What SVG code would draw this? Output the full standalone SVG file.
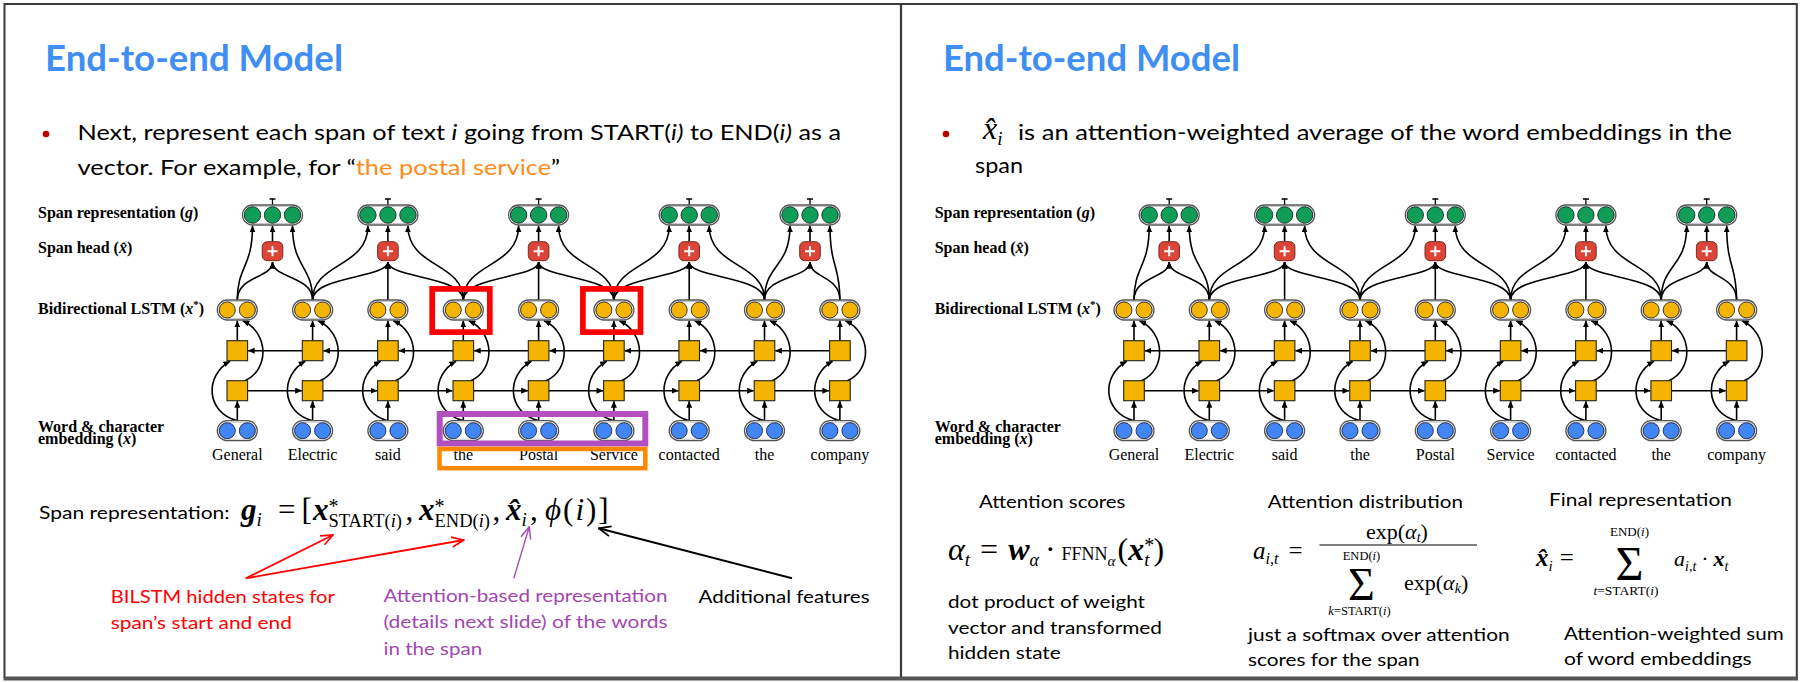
<svg xmlns="http://www.w3.org/2000/svg" width="1800" height="682" viewBox="0 0 1800 682">
<style>
  .s{font-family:Lato,"Open Sans","Liberation Sans",sans-serif;fill:#000}
  .title{font-size:36px;font-weight:bold;fill:#3F8EF4}
  .body{font-size:20.5px}
  .sm{font-size:18px}
  .serif{font-family:"Liberation Serif","Times New Roman","DejaVu Serif",serif}
  .lbl{font-size:16px;font-weight:bold}
  .word{font-size:16px;text-anchor:middle}
  .it{font-style:italic}
  .bi{font-style:italic;font-weight:bold}
  .ln{fill:none;stroke:#000;stroke-width:1.6;marker-end:url(#ah)}
  .pill{fill:#fff;stroke:#555;stroke-width:1.3}
  .pin{fill:none;stroke:#c8c8c8;stroke-width:1}
  .cg{fill:#0F9D58;stroke:#1d2f25;stroke-width:0.9}
  .cy{fill:#F4B400;stroke:#2a2a2a;stroke-width:0.9}
  .cb{fill:#4285F4;stroke:#1d2a44;stroke-width:0.9}
  .sq{fill:#F4B400;stroke:#222;stroke-width:1.1}
  .red{fill:#FF0000}
  .pur{fill:#A346B0}
</style>
<defs>
  <marker id="ah" viewBox="0 0 7 6" refX="6.6" refY="3" markerWidth="7" markerHeight="6" markerUnits="userSpaceOnUse" orient="auto"><path d="M0,0L7,3L0,6z" fill="#000"/></marker>
  <marker id="vR" viewBox="0 0 14 12" refX="13" refY="6" markerWidth="14" markerHeight="12" markerUnits="userSpaceOnUse" orient="auto"><path d="M1,1L13,6L1,11" fill="none" stroke="#FF0000" stroke-width="1.6"/></marker>
  <marker id="vP" viewBox="0 0 14 12" refX="13" refY="6" markerWidth="14" markerHeight="12" markerUnits="userSpaceOnUse" orient="auto"><path d="M1,1L13,6L1,11" fill="none" stroke="#A346B0" stroke-width="1.4"/></marker>
  <marker id="vK" viewBox="0 0 14 12" refX="13" refY="6" markerWidth="14" markerHeight="12" markerUnits="userSpaceOnUse" orient="auto"><path d="M1,1L13,6L1,11" fill="none" stroke="#000" stroke-width="1.8"/></marker>

  <!-- node shapes, centred on the origin -->
  <g id="gP">
    <path d="M0,-10V-16M-3,-16H3" stroke="#000" stroke-width="1.3"/>
    <rect class="pill" x="-30" y="-10" width="60" height="20" rx="10"/>
    <rect class="pin" x="-28.5" y="-8.5" width="57" height="17" rx="8.5"/>
    <circle class="cg" cx="-20" cy="0" r="8.2"/>
    <circle class="cg" cx="0" cy="0" r="8.2"/>
    <circle class="cg" cx="20" cy="0" r="8.2"/>
  </g>
  <g id="yP">
    <rect class="pill" x="-20" y="-10" width="40" height="20" rx="10"/>
    <rect class="pin" x="-18.5" y="-8.5" width="37" height="17" rx="8.5"/>
    <circle class="cy" cx="-10" cy="0" r="8"/>
    <circle class="cy" cx="10" cy="0" r="8"/>
  </g>
  <g id="bP">
    <rect class="pill" x="-20" y="-10" width="40" height="20" rx="10"/>
    <rect class="pin" x="-18.5" y="-8.5" width="37" height="17" rx="8.5"/>
    <circle class="cb" cx="-10" cy="0" r="8"/>
    <circle class="cb" cx="10" cy="0" r="8"/>
  </g>
  <rect id="sQ" class="sq" x="-10.3" y="-10" width="20.6" height="20"/>
  <g id="rB">
    <rect x="-10.3" y="-9.5" width="20.6" height="19" rx="5" fill="#DB4437" stroke="#7a2a22" stroke-width="1"/>
    <path d="M-5,0H5M0,-5V5" stroke="#fff" stroke-width="2"/>
  </g>

  <!-- per-column LSTM wiring (column at x=0) -->
  <g id="colL" class="ln">
    <path d="M0,420.7V401.2"/>
    <path d="M0,340.7V320.8"/>
    <path d="M0,420.7C-32.3,412 -32.3,375 -7.3,361.2"/>
    <path d="M7.5,380.7C32,370 32,333 5.5,320.8"/>
  </g>
  <!-- recurrent links to the next column -->
  <g id="hL" class="ln">
    <path d="M65,350.7H10.8"/>
    <path d="M10.3,390.7H64.5"/>
  </g>

  <!-- span-ranking network -->
  <g id="net">
    <g id="layerLabels" class="serif lbl">
      <text x="38" y="218.3">Span representation (<tspan class="it">g</tspan>)</text>
      <text x="38" y="253">Span head (<tspan class="it">x̂</tspan>)</text>
      <text x="38" y="314.3">Bidirectional LSTM (<tspan class="it">x</tspan><tspan font-size="11" dy="-6">*</tspan><tspan dy="6">)</tspan></text>
      <text x="38" y="432">Word &amp; character</text>
      <text x="38" y="444">embedding (<tspan class="it">x</tspan>)</text>
    </g>
    <g id="connectors">
      <use href="#colL" x="237.3"/>
      <use href="#colL" x="312.6"/>
      <use href="#colL" x="387.9"/>
      <use href="#colL" x="463.3"/>
      <use href="#colL" x="538.6"/>
      <use href="#colL" x="613.9"/>
      <use href="#colL" x="689.2"/>
      <use href="#colL" x="764.5"/>
      <use href="#colL" x="839.9"/>
      <use href="#hL" x="237.3"/>
      <use href="#hL" x="312.6"/>
      <use href="#hL" x="387.9"/>
      <use href="#hL" x="463.3"/>
      <use href="#hL" x="538.6"/>
      <use href="#hL" x="613.9"/>
      <use href="#hL" x="689.2"/>
      <use href="#hL" x="764.5"/>
      <g class="ln">
        <path d="M237.3,300C237.3,266 252.5,268 252.5,225.8"/>
        <path d="M312.6,300C312.6,266 292.5,268 292.5,225.8"/>
        <path d="M237.3,300C237.3,276 272.5,278 272.5,262"/>
        <path d="M312.6,300C312.6,276 272.5,278 272.5,262"/>
        <path d="M272.5,241.7V225.8"/>

        <path d="M312.6,300C312.6,262 367.9,268 367.9,225.8"/>
        <path d="M463.3,300C463.3,262 407.9,268 407.9,225.8"/>
        <path d="M312.6,300C312.6,276 387.9,278 387.9,262"/>
        <path d="M463.3,300C463.3,276 387.9,278 387.9,262"/>
        <path d="M387.9,300V262"/>
        <path d="M387.9,241.7V225.8"/>

        <path d="M463.3,300C463.3,262 518.6,268 518.6,225.8"/>
        <path d="M613.9,300C613.9,262 558.6,268 558.6,225.8"/>
        <path d="M463.3,300C463.3,276 538.6,278 538.6,262"/>
        <path d="M613.9,300C613.9,276 538.6,278 538.6,262"/>
        <path d="M538.6,300V262"/>
        <path d="M538.6,241.7V225.8"/>

        <path d="M613.9,300C613.9,262 669.2,268 669.2,225.8"/>
        <path d="M764.5,300C764.5,262 709.2,268 709.2,225.8"/>
        <path d="M613.9,300C613.9,276 689.2,278 689.2,262"/>
        <path d="M764.5,300C764.5,276 689.2,278 689.2,262"/>
        <path d="M689.2,300V262"/>
        <path d="M689.2,241.7V225.8"/>

        <path d="M764.5,300C764.5,264 790,268 790,225.8"/>
        <path d="M839.9,300C839.9,264 830,268 830,225.8"/>
        <path d="M764.5,300C764.5,276 810,278 810,262"/>
        <path d="M839.9,300C839.9,276 810,278 810,262"/>
        <path d="M810,241.7V225.8"/>
      </g>
    </g>
    <g id="spanReps">
      <use id="g1" href="#gP" x="272.5" y="215"/>
      <use id="g2" href="#gP" x="387.9" y="215"/>
      <use id="g3" href="#gP" x="538.6" y="215"/>
      <use id="g4" href="#gP" x="689.2" y="215"/>
      <use id="g5" href="#gP" x="810" y="215"/>
    </g>
    <g id="spanHeads">
      <use id="h1" href="#rB" x="272.5" y="251.2"/>
      <use id="h2" href="#rB" x="387.9" y="251.2"/>
      <use id="h3" href="#rB" x="538.6" y="251.2"/>
      <use id="h4" href="#rB" x="689.2" y="251.2"/>
      <use id="h5" href="#rB" x="810" y="251.2"/>
    </g>
    <g id="bilstm">
      <use href="#yP" x="237.3" y="310"/>
      <use href="#yP" x="312.6" y="310"/>
      <use href="#yP" x="387.9" y="310"/>
      <use href="#yP" x="463.3" y="310"/>
      <use href="#yP" x="538.6" y="310"/>
      <use href="#yP" x="613.9" y="310"/>
      <use href="#yP" x="689.2" y="310"/>
      <use href="#yP" x="764.5" y="310"/>
      <use href="#yP" x="839.9" y="310"/>
    </g>
    <g id="backwardCells">
      <use href="#sQ" x="237.3" y="350.7"/>
      <use href="#sQ" x="312.6" y="350.7"/>
      <use href="#sQ" x="387.9" y="350.7"/>
      <use href="#sQ" x="463.3" y="350.7"/>
      <use href="#sQ" x="538.6" y="350.7"/>
      <use href="#sQ" x="613.9" y="350.7"/>
      <use href="#sQ" x="689.2" y="350.7"/>
      <use href="#sQ" x="764.5" y="350.7"/>
      <use href="#sQ" x="839.9" y="350.7"/>
    </g>
    <g id="forwardCells">
      <use href="#sQ" x="237.3" y="390.7"/>
      <use href="#sQ" x="312.6" y="390.7"/>
      <use href="#sQ" x="387.9" y="390.7"/>
      <use href="#sQ" x="463.3" y="390.7"/>
      <use href="#sQ" x="538.6" y="390.7"/>
      <use href="#sQ" x="613.9" y="390.7"/>
      <use href="#sQ" x="689.2" y="390.7"/>
      <use href="#sQ" x="764.5" y="390.7"/>
      <use href="#sQ" x="839.9" y="390.7"/>
    </g>
    <g id="embeddings">
      <use href="#bP" x="237.3" y="430.7"/>
      <use href="#bP" x="312.6" y="430.7"/>
      <use href="#bP" x="387.9" y="430.7"/>
      <use href="#bP" x="463.3" y="430.7"/>
      <use href="#bP" x="538.6" y="430.7"/>
      <use href="#bP" x="613.9" y="430.7"/>
      <use href="#bP" x="689.2" y="430.7"/>
      <use href="#bP" x="764.5" y="430.7"/>
      <use href="#bP" x="839.9" y="430.7"/>
    </g>
    <g id="words" class="serif word">
      <text x="237.3" y="460">General</text>
      <text x="312.6" y="460">Electric</text>
      <text x="387.9" y="460">said</text>
      <text x="463.3" y="460">the</text>
      <text x="538.6" y="460">Postal</text>
      <text x="613.9" y="460">Service</text>
      <text x="689.2" y="460">contacted</text>
      <text x="764.5" y="460">the</text>
      <text x="839.9" y="460">company</text>
    </g>
  </g>
</defs>

<rect width="1800" height="682" fill="#fff"/>

<!-- slide frames -->
<g id="frame" fill="none" stroke="#3a3a3a">
  <path d="M4.5,678V4H1796.8V678" stroke-width="2"/>
  <line x1="901" y1="4" x2="901" y2="678" stroke-width="2.2"/>
  <line x1="3.5" y1="678.5" x2="1798" y2="678.5" stroke="#555" stroke-width="4"/>
</g>

<!-- ===== left slide ===== -->
<g id="leftSlide">
  <text class="s title" x="45" y="71" textLength="298" lengthAdjust="spacingAndGlyphs">End-to-end Model</text>
  <circle cx="46" cy="134" r="3.3" fill="#C00000"/>
  <text class="s body" x="77.5" y="140" textLength="763.5" lengthAdjust="spacingAndGlyphs">Next, represent each span of text <tspan class="it">i</tspan> going from START(<tspan class="it">i)</tspan> to END(<tspan class="it">i)</tspan> as a</text>
  <text class="s body" x="77.5" y="175" textLength="482.5" lengthAdjust="spacingAndGlyphs">vector. For example, for “<tspan fill="#FF8C1A">the postal service</tspan>”</text>

  <use href="#net"/>

  <g id="highlights" fill="none">
    <rect x="432.2" y="288.9" width="57.6" height="43.2" stroke="#FF0000" stroke-width="5.7"/>
    <rect x="582.9" y="288.9" width="57.6" height="43.2" stroke="#FF0000" stroke-width="5.7"/>
    <rect x="439.7" y="414" width="205.6" height="29.5" stroke="#B44FC0" stroke-width="6"/>
    <rect x="439.5" y="449" width="205.8" height="19.2" stroke="#FF8800" stroke-width="4.5"/>
  </g>

  <text class="s sm" x="39" y="519" textLength="190.6" lengthAdjust="spacingAndGlyphs">Span representation:</text>
  <g id="spanFormula" class="serif" font-size="31">
    <text x="241" y="520"><tspan class="bi">g</tspan><tspan class="it" font-size="19" dy="6">i</tspan></text>
    <text x="278" y="520">=</text>
    <text x="301.5" y="520">[</text>
    <text x="313" y="520"><tspan class="bi">x</tspan><tspan font-size="20" dy="-7">*</tspan><tspan font-size="18.5" dx="-10" dy="14">START(<tspan class="it">i</tspan>)</tspan></text>
    <text x="405.5" y="520">,</text>
    <text x="419" y="520"><tspan class="bi">x</tspan><tspan font-size="20" dy="-7">*</tspan><tspan font-size="18.5" dx="-10" dy="14">END(<tspan class="it">i</tspan>)</tspan></text>
    <text x="492.5" y="520">,</text>
    <text x="506" y="520"><tspan class="bi">x̂</tspan><tspan class="it" font-size="19" dy="6">i</tspan></text>
    <text x="530" y="520">,</text>
    <text x="545" y="520" letter-spacing="2"><tspan class="it">ϕ</tspan>(<tspan class="it">i</tspan>)]</text>
  </g>

  <g id="noteArrows" fill="none">
    <path d="M245.7,578.3L333,535" stroke="#FF0000" stroke-width="1.8" marker-end="url(#vR)"/>
    <path d="M245.7,578.3L463.8,540" stroke="#FF0000" stroke-width="1.8" marker-end="url(#vR)"/>
    <path d="M513.8,578.3L529.3,526.7" stroke="#A346B0" stroke-width="1.3" marker-end="url(#vP)"/>
    <path d="M792,578.3L598.7,528.3" stroke="#000" stroke-width="2" marker-end="url(#vK)"/>
  </g>
  <g id="notes" class="s sm">
    <text class="red" x="110.8" y="603.3" textLength="224" lengthAdjust="spacingAndGlyphs">BILSTM hidden states for</text>
    <text class="red" x="110.8" y="629.3" textLength="181" lengthAdjust="spacingAndGlyphs">span’s start and end</text>
    <text class="pur" x="383.5" y="602.3" textLength="284" lengthAdjust="spacingAndGlyphs">Attention-based representation</text>
    <text class="pur" x="383.5" y="628.3" textLength="284" lengthAdjust="spacingAndGlyphs">(details next slide) of the words</text>
    <text class="pur" x="383.5" y="655" textLength="98.7" lengthAdjust="spacingAndGlyphs">in the span</text>
    <text x="698.6" y="603.3" textLength="171" lengthAdjust="spacingAndGlyphs">Additional features</text>
  </g>
</g>

<!-- ===== right slide ===== -->
<g id="rightSlide">
  <text class="s title" x="943" y="71" textLength="297" lengthAdjust="spacingAndGlyphs">End-to-end Model</text>
  <circle cx="946" cy="134" r="3.3" fill="#C00000"/>
  <text class="serif" x="983" y="139" font-size="32"><tspan class="it">x̂</tspan><tspan class="it" font-size="19" dy="6">i</tspan></text>
  <text class="s body" x="1018" y="140" textLength="714" lengthAdjust="spacingAndGlyphs">is an attention-weighted average of the word embeddings in the</text>
  <text class="s body" x="975" y="173" textLength="48" lengthAdjust="spacingAndGlyphs">span</text>

  <use href="#net" transform="translate(896.7,0)"/>

  <g id="attnText" class="s sm">
    <text x="979" y="508" textLength="146.4" lengthAdjust="spacingAndGlyphs">Attention scores</text>
    <text x="948" y="608" textLength="197" lengthAdjust="spacingAndGlyphs">dot product of weight</text>
    <text x="948" y="634" textLength="214" lengthAdjust="spacingAndGlyphs">vector and transformed</text>
    <text x="948" y="659" textLength="112.7" lengthAdjust="spacingAndGlyphs">hidden state</text>
    <text x="1267.8" y="508" textLength="195.2" lengthAdjust="spacingAndGlyphs">Attention distribution</text>
    <text x="1248" y="641" textLength="261.7" lengthAdjust="spacingAndGlyphs">just a softmax over attention</text>
    <text x="1248" y="666" textLength="171.7" lengthAdjust="spacingAndGlyphs">scores for the span</text>
    <text x="1549" y="506" textLength="183" lengthAdjust="spacingAndGlyphs">Final representation</text>
    <text x="1564" y="640" textLength="219.8" lengthAdjust="spacingAndGlyphs">Attention-weighted sum</text>
    <text x="1564" y="665" textLength="187.7" lengthAdjust="spacingAndGlyphs">of word embeddings</text>
  </g>

  <g id="scoreFormula" class="serif">
    <text x="948" y="560" font-size="32"><tspan class="it">α</tspan><tspan class="it" font-size="19" dy="6">t</tspan><tspan dy="-6" dx="10">=</tspan><tspan class="bi" dx="10">w</tspan><tspan class="it" font-size="18" dy="6">α</tspan><tspan dy="-6" dx="6">·</tspan><tspan font-size="18" dx="6">FFNN</tspan><tspan class="it" font-size="15" dy="6">α</tspan><tspan dy="-6" dx="2">(</tspan><tspan class="bi">x</tspan><tspan font-size="20" dy="-8">*</tspan><tspan class="it" font-size="19" dx="-10" dy="14">t</tspan><tspan dy="-6" dx="4">)</tspan></text>
  </g>

  <g id="distFormula" class="serif">
    <text x="1253" y="558.5" font-size="25"><tspan class="it">a</tspan><tspan class="it" font-size="16" dy="5.5">i,t</tspan><tspan dy="-5.5" dx="10">=</tspan></text>
    <line x1="1319.5" y1="545" x2="1477" y2="545" stroke="#000" stroke-width="1.2"/>
    <text x="1366" y="539" font-size="22">exp(<tspan class="it">α</tspan><tspan font-size="14" dy="3" class="it">t</tspan><tspan dy="-3">)</tspan></text>
    <text x="1361.5" y="560" font-size="12.5" text-anchor="middle">END(<tspan class="it">i</tspan>)</text>
    <text x="1361.5" y="600" font-size="46" text-anchor="middle">Σ</text>
    <text x="1404" y="590" font-size="22">exp(<tspan class="it">α</tspan><tspan font-size="14" dy="3" class="it">k</tspan><tspan dy="-3">)</tspan></text>
    <text x="1359.5" y="614.5" font-size="12.5" text-anchor="middle"><tspan class="it">k</tspan>=START(<tspan class="it">i</tspan>)</text>
  </g>

  <g id="finalFormula" class="serif">
    <text x="1536" y="566" font-size="25"><tspan class="bi">x̂</tspan><tspan class="it" font-size="15" dy="5">i</tspan><tspan dy="-5" dx="7">=</tspan></text>
    <text x="1629.5" y="536" font-size="13" text-anchor="middle">END(<tspan class="it">i</tspan>)</text>
    <text x="1629.5" y="580" font-size="48" text-anchor="middle">Σ</text>
    <text x="1626" y="594.5" font-size="13.5" text-anchor="middle"><tspan class="it">t</tspan>=START(<tspan class="it">i</tspan>)</text>
    <text x="1674" y="566" font-size="22"><tspan class="it">a</tspan><tspan class="it" font-size="14" dy="5">i,t</tspan><tspan dy="-5" dx="5">·</tspan><tspan class="bi" dx="5">x</tspan><tspan class="it" font-size="14" dy="5">t</tspan></text>
  </g>
</g>
</svg>
